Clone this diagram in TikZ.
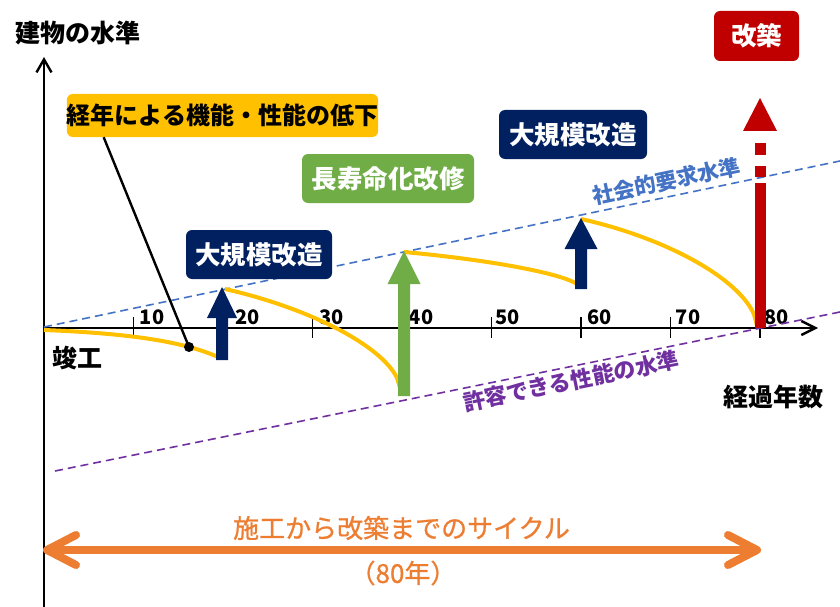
\documentclass[tikz,border=0pt]{standalone}
\usepackage{fontspec}
\setmainfont{Noto Sans CJK JP}
\newfontfamily\jpsemi[FakeBold=0.8]{Noto Sans CJK JP}
\usetikzlibrary{calc,arrows.meta}
\definecolor{navyc}{HTML}{002060}
\definecolor{greenc}{HTML}{70AD47}
\definecolor{redc}{HTML}{C00000}
\definecolor{yelc}{HTML}{FFC000}
\definecolor{orangec}{HTML}{ED7D31}
\definecolor{bluec}{HTML}{4472C4}
\definecolor{purplec}{HTML}{7030A0}
\newcommand\myuparrow[7]{\fill[#1] ({#2-#6},#3) -- ({#2-#6},#4) -- ({#2-#7},#4) -- (#2,#5) -- ({#2+#7},#4) -- ({#2+#6},#4) -- ({#2+#6},#3) -- cycle;}
\begin{document}
\begin{tikzpicture}[x=1pt,y=-1pt,
  axisline/.style={line width=2.4pt,black},
  ticklbl/.style={font=\bfseries\fontsize{20}{22}\selectfont,inner sep=0pt},
  bigtxt/.style={font=\bfseries\fontsize{25}{28}\selectfont,inner sep=0pt},
  lbox/.style={rounded corners=6pt,inner sep=0pt,text=white,font=\bfseries\fontsize{25.5}{28}\selectfont},
  yelcurve/.style={yelc,line width=4pt},
  dashline/.style={line width=1.6pt,dash pattern=on 8pt off 5pt},
  cyctxt/.style={orangec,font=\jpsemi\fontsize{26}{28}\selectfont,inner sep=0pt}]
\useasboundingbox (0,0) rectangle (840,607);
\fill[white] (0,0) rectangle (840,607);
% axes
\coordinate (ybot) at (44,607);
\coordinate (ytop) at (44,57);
\coordinate (O) at (44,328);
\coordinate (xend) at (818,328);
\draw[axisline,-{Straight Barb[length=13pt,width=15pt]}] (ybot) -- (ytop);
\draw[axisline,-{Straight Barb[length=14pt,width=14pt]}] (O) -- (xend);
\foreach \t in {10,20,...,80} \draw[line width=1.6pt] ({44+8.95*\t},317) -- ++(0,21);
\foreach \t/\dx in {10/18.5,20/24.5,30/19,40/19,50/16,60/18.5,70/17.5,80/16.5}
  \node[ticklbl] (tick\t) at ({44+8.95*\t+\dx},317.5) {\t};
% level lines
\coordinate (b0) at (44,327);
\coordinate (b1) at (840,161);
\coordinate (p0) at (55,471);
\coordinate (p1) at (840,312);
\draw[bluec,dashline] (b0) -- (b1);
\draw[purplec,dashline] (p0) -- (p1);
\node[bluec,font=\bfseries\fontsize{21.5}{24}\selectfont,rotate=11.8,inner sep=0pt] (social) at (666,181) {社会的要求水準};
\node[purplec,font=\bfseries\fontsize{22}{24}\selectfont,rotate=11.5,inner sep=0pt] (allow) at (571,381) {許容できる性能の水準};
% performance curves
\draw[yelcurve] (44,330) .. controls (120,333) and (180,340) .. (218,357);
\draw[yelcurve] plot[domain=0:1,samples=60,smooth] ({225+175*\x},{289+39.6*\x+61.4*(1-sqrt(max(0,1-\x*\x)))});
\draw[yelcurve] plot[domain=0:1,samples=60,smooth] ({404+176*\x},{252+16.2*\x+19.8*(1-sqrt(max(0,1-\x*\x)))});
\draw[yelcurve] plot[domain=0:1,samples=60,smooth] ({581+176*\x},{219+39.3*\x+69.7*(1-sqrt(max(0,1-\x*\x)))});
% arrows
\myuparrow{navyc}{222}{360}{318}{287}{6}{15}
\myuparrow{greenc}{404}{396}{284}{251}{6}{16.5}
\myuparrow{navyc}{581}{289}{249}{218}{6}{16.5}
\fill[redc] (743,131) -- (760,98) -- (777,131) -- cycle;
\fill[redc] (754.5,143) rectangle (765.5,155);
\fill[redc] (754.5,166) rectangle (765.5,177);
\fill[redc] (754.5,183) rectangle (765.5,328);
% boxes
\node[lbox,fill=yelc,text=black,minimum width=309pt,minimum height=43pt,font=\bfseries\fontsize{24}{27}\selectfont] (lbl) at (222.5,115.5) {経年による機能・性能の低下};
\node[circle,fill=black,inner sep=0pt,minimum size=10pt] (dot) at (189,347) {};
\draw[line width=2.4pt] (dot.center) -- ([xshift=37pt]lbl.south west);
\node[lbox,fill=navyc,minimum width=146pt,minimum height=49pt] (big1) at (259,254.5) {大規模改造};
\node[lbox,fill=greenc,minimum width=172pt,minimum height=49pt] (long) at (388,178.5) {長寿命化改修};
\node[lbox,fill=navyc,minimum width=148pt,minimum height=49pt] (big2) at (573,134.5) {大規模改造};
\node[lbox,fill=redc,minimum width=85pt,minimum height=50pt] (rebuild) at (756.5,36) {改築};
% axis texts
\node[bigtxt] (ylab) at (77.5,33) {建物の水準};
\node[bigtxt] (start) at (77,358) {竣工};
\node[bigtxt] (xlab) at (773.5,397) {経過年数};
% cycle arrow
\coordinate (cl) at (47,550);
\coordinate (cr) at (757,550);
\draw[orangec,line width=8pt] (cl) -- (cr);
\draw[orangec,line width=8pt,line cap=round,line join=round] ($(cl)+(29,-15)$) -- (cl) -- ($(cl)+(29,15)$);
\draw[orangec,line width=8pt,line cap=round,line join=round] ($(cr)+(-29,-15)$) -- (cr) -- ($(cr)+(-29,15)$);
\node[cyctxt] (cyc) at (401.5,528) {施工から改築までのサイクル};
\node[cyctxt] (yrs) at (403,573) {（80年）};
\end{tikzpicture}
\end{document}
